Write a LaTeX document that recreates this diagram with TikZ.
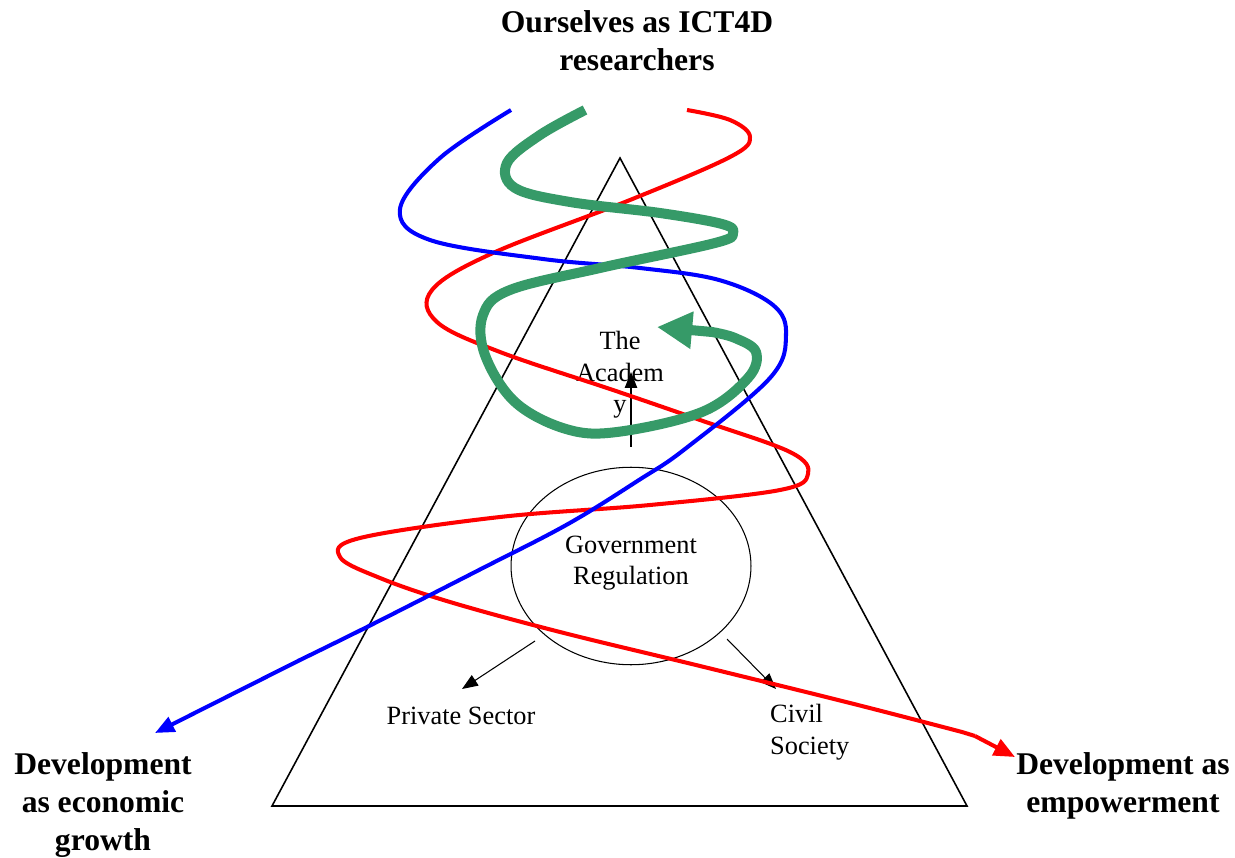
\documentclass[tikz,border=0pt]{standalone}
\usepackage{fontspec}
\setmainfont{Liberation Serif}
\usetikzlibrary{arrows.meta, shapes.geometric}
\definecolor{cblue}{RGB}{0,0,255}
\definecolor{cred}{RGB}{255,0,0}
\definecolor{cgreen}{RGB}{54,154,104}

\begin{document}
\begin{tikzpicture}[x=0.02cm, y=-0.02cm, font=\fontsize{15}{18}\selectfont,
  heading/.style={font=\fontsize{18}{21.5}\selectfont\bfseries, align=center},
  thread/.style={line width=2.3pt, line join=round},
  smallarrow/.style={-{Triangle[length=9pt, width=7pt]}, line width=0.6pt}]
  \useasboundingbox (0,0) rectangle (1235,858);

  % triangle and the actors inside it
  \draw[line width=0.9pt] (620,158) -- (967,806) -- (272,806) -- cycle;
  \node[ellipse, draw, line width=0.6pt, minimum width=4.8cm, minimum height=3.95cm] (gov) at (631,566) {};
  \node[align=center] (govtext) at (631,563) {Government\\Regulation};
  \node[align=center] (academy) at (620,375) {The\\Academ\\y};
  \node (private) at (461,716) {Private Sector};
  \node[align=left, anchor=west] (civil) at (764,732) {Civil\\Society};

  \coordinate (up0) at (631,447);
  \coordinate (up1) at (631,372);
  \coordinate (pr0) at (535,641);
  \coordinate (pr1) at (462,689);
  \coordinate (cv0) at (727,639);
  \coordinate (cv1) at (776,689);
  \draw[smallarrow] (up0) -- (up1);
  \draw[smallarrow] (pr0) -- (pr1);
  \draw[smallarrow] (cv0) -- (cv1);

  % headings
  \node[heading] (ourselves) at (637,41) {Ourselves as ICT4D\\researchers};
  \node[heading] (growth) at (103,805) {Development\\as economic\\growth};
  \node[heading] (empower) at (1123,786) {Development as\\empowerment};

  % threads
  \coordinate (blueend) at (155,733);
  \coordinate (redend) at (1015,757);
  \coordinate (greenend) at (657,327);
  \draw[thread, cred]
    plot[smooth, tension=0.6] coordinates {(687,110) (730,120) (750,137) (730,157) (630,200)
      (493,253) (432,290) (437,322) (500,352) (613,390) (700,420) (790,452) (808,474)
      (780,490) (650,505) (500,517) (360,538) (340,557) (380,578) (450,602) (560,632)
      (700,666) (850,703) (962,732)} -- (975,736);
  \draw[thread, cred, -{Triangle[length=12pt, width=10pt]}] (975,736) -- (redend);
  \draw[thread, cblue, -{Triangle[length=11pt, width=9pt]}]
    plot[smooth, tension=0.6] coordinates {(511,110) (440,158) (400,209) (430,240) (543,259)
      (640,268) (719,280) (773,305) (786,335) (770,378) (685,449) (639,480) (568,524)
      (479,570) (371,625) (300,660)} -- (blueend);
  \draw[line width=5.7pt, cgreen, line join=round, -{Triangle[length=20pt, width=20pt]}]
    plot[smooth, tension=0.6] coordinates {(585,110) (540,135) (507,163) (515,188) (570,202)
      (660,213) (722,224) (733,233) (715,243) (600,268) (510,290) (483,315) (485,355)
      (515,402) (566,429) (617,432) (702,412) (748,378) (756,352) (735,338) (712,332)} -- (greenend);
\end{tikzpicture}
\end{document}
